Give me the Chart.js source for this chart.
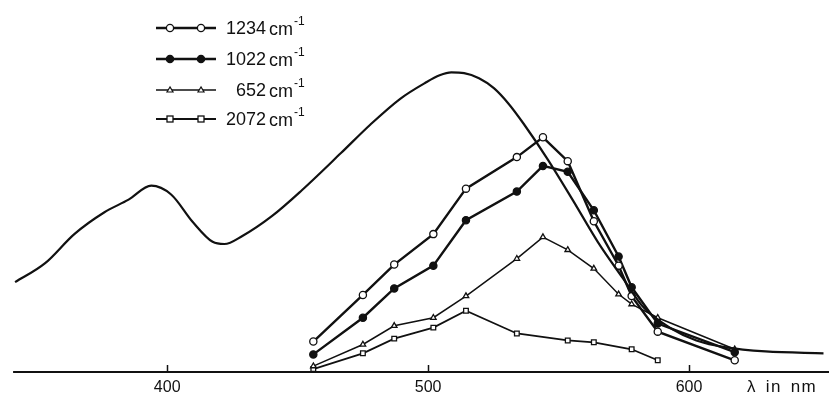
<!DOCTYPE html>
<html lang="en">
<head>
    <meta charset="UTF-8">
    <title>Excitation profiles</title>
    <script src="https://cdn.jsdelivr.net/npm/chart.js"></script>
    <style>
        body {
            margin: 0;
            background: #fff;
            font-family: 'Liberation Sans', Arial, sans-serif;
        }

        #wrap {
            position: relative;
            width: 829px;
            height: 402px;
        }

        .legend-row {
            position: absolute;
            left: 150px;
            height: 20px;
            display: flex;
            align-items: center;
            font-size: 18px;
            color: #111;
        }

        .legend-row svg {
            width: 72px;
            height: 14px;
        }

        .legend-row .num {
            display: inline-block;
            width: 42px;
            text-align: right;
            margin-left: 2px;
        }

        .legend-row .unit {
            margin-left: 3px;
        }

        .legend-row sup {
            font-size: 12px;
            position: relative;
            top: -3px;
            margin-left: 1px;
        }

        #xunit {
            position: absolute;
            left: 747px;
            top: 377px;
            font-size: 17px;
            letter-spacing: 1.3px;
            word-spacing: 3px;
            color: #111;
        }
    </style>
</head>
<body>
    <div id="wrap">
        <canvas id="spectrum" width="829" height="402"></canvas>
        <div id="legend"></div>
        <div id="xunit">&lambda; in nm</div>
    </div>

    <script>
        // absorption band (wavelength nm / relative absorbance)
        const absWave = [341.7, 353.1, 364.4, 375.8, 385.2, 393.9, 401.5, 409.8, 417.4, 421.9, 428.8,
            440.1, 451.5, 466.6, 477.9, 489.3, 498.8, 504.4, 508.9, 513.8, 519.5, 525.2, 530.9, 536.6,
            546.0, 555.5, 565.0, 574.4, 582.7, 593.3, 602.8, 614.2, 629.3, 651.6];
        const absValues = [24.5, 29.6, 37.6, 43.5, 47.0, 50.8, 48.4, 40.9, 35.5, 34.9, 37.1,
            42.5, 49.5, 59.7, 67.5, 74.5, 78.8, 80.9, 81.7, 81.5, 80.1, 77.4, 73.1, 67.7,
            57.8, 46.8, 35.5, 25.8, 17.5, 11.8, 8.6, 6.7, 5.6, 5.1];

        // excitation wavelengths for the Raman bands
        const excWave = [456, 475, 487, 502, 514.5, 534, 544, 553.5, 563.5, 573, 578, 588, 617.5];
        const band1234 = [8.3, 21.0, 29.3, 37.6, 50.0, 58.6, 64.0, 57.5, 41.1, 29.0, 20.7, 11.0, 3.2];
        const band1022 = [4.8, 14.8, 22.8, 29.0, 41.4, 49.2, 56.2, 54.6, 44.1, 31.5, 23.1, 13.2, 5.4];
        const band652 = [1.6, 7.5, 12.6, 14.8, 20.7, 30.9, 36.8, 33.3, 28.2, 21.2, 18.5, 14.8, 6.2];

        const excWave2072 = [456, 475, 487, 502, 514.5, 534, 553.5, 563.5, 578, 588];
        const band2072 = [0.8, 5.1, 9.1, 12.1, 16.7, 10.5, 8.6, 8.1, 6.2, 3.2];

        const xTicks = [400, 500, 600];
        const legendLabels = ['1234', '1022', '652', '2072'];

        const ink = '#111';

        function pairs(xs, ys) {
            return xs.map((x, i) => ({ x: x, y: ys[i] }));
        }

        const bandStyles = [
            { style: 'circle', fill: '#fff', r: 3.6, w: 2.4 },
            { style: 'circle', fill: ink, r: 3.6, w: 2.4 },
            { style: 'triangle', fill: '#fff', r: 3.2, w: 1.5 },
            { style: 'rect', fill: '#fff', r: 3.3, w: 1.8 }
        ];
        const bandData = [
            pairs(excWave, band1234),
            pairs(excWave, band1022),
            pairs(excWave, band652),
            pairs(excWave2072, band2072)
        ];

        const datasets = [{
            label: 'absorption',
            data: pairs(absWave, absValues),
            borderColor: ink,
            borderWidth: 2.2,
            pointRadius: 0,
            cubicInterpolationMode: 'monotone',
            fill: false
        }];

        bandData.forEach((d, i) => {
            const s = bandStyles[i];
            datasets.push({
                label: legendLabels[i] + ' cm-1',
                data: d,
                borderColor: ink,
                borderWidth: s.w,
                pointStyle: s.style,
                pointRadius: s.r,
                pointBackgroundColor: s.fill,
                pointBorderColor: ink,
                pointBorderWidth: 1.3,
                tension: 0,
                fill: false
            });
        });

        // axis line with short upward ticks, like the printed figure
        const axisPlugin = {
            id: 'printedAxis',
            afterDatasetsDraw(chart) {
                const ctx = chart.ctx;
                const x = chart.scales.x;
                const y0 = chart.chartArea.bottom;
                ctx.save();
                ctx.strokeStyle = ink;
                ctx.lineWidth = 2;
                ctx.beginPath();
                ctx.moveTo(x.getPixelForValue(absWave[0]) - 2, y0);
                ctx.lineTo(chart.width, y0);
                ctx.stroke();
                ctx.lineWidth = 1.5;
                xTicks.forEach(t => {
                    const px = Math.round(x.getPixelForValue(t)) + 0.5;
                    ctx.beginPath();
                    ctx.moveTo(px, y0);
                    ctx.lineTo(px, y0 - 7);
                    ctx.stroke();
                });
                ctx.restore();
            }
        };

        new Chart(document.getElementById('spectrum'), {
            type: 'line',
            data: { datasets: datasets },
            options: {
                responsive: false,
                animation: false,
                layout: { padding: 0 },
                plugins: {
                    legend: { display: false },
                    tooltip: { enabled: false }
                },
                scales: {
                    x: {
                        type: 'linear',
                        min: 337.95,
                        max: 651.6,
                        grid: { display: false, drawTicks: false },
                        border: { display: false },
                        afterBuildTicks: scale => {
                            scale.ticks = xTicks.map(v => ({ value: v }));
                        },
                        afterFit: scale => { scale.height = 30; },
                        ticks: {
                            color: ink,
                            padding: 6,
                            maxRotation: 0,
                            font: { family: "'Liberation Sans', Arial, sans-serif", size: 16 }
                        }
                    },
                    y: {
                        display: false,
                        min: 0,
                        max: 100
                    }
                }
            },
            plugins: [axisPlugin]
        });

        // legend drawn as html rows
        const rowTops = [18, 49, 80, 109];
        const legend = document.getElementById('legend');
        legendLabels.forEach((lab, i) => {
            const s = bandStyles[i];
            let marks = '';
            [20, 51].forEach(cx => {
                if (s.style === 'circle') {
                    marks += `<circle cx="${cx}" cy="7" r="3.6" fill="${s.fill}" stroke="${ink}" stroke-width="1.3"/>`;
                } else if (s.style === 'triangle') {
                    marks += `<polygon points="${cx},4 ${cx - 3},9 ${cx + 3},9" fill="#fff" stroke="${ink}" stroke-width="1.2"/>`;
                } else {
                    marks += `<rect x="${cx - 3}" y="4" width="6" height="6" fill="#fff" stroke="${ink}" stroke-width="1.3"/>`;
                }
            });
            const row = document.createElement('div');
            row.className = 'legend-row';
            row.style.top = rowTops[i] + 'px';
            row.innerHTML =
                `<svg viewBox="0 0 72 14"><line x1="6" y1="7" x2="66" y2="7" stroke="${ink}" stroke-width="${s.w}"/>${marks}</svg>` +
                `<span class="num">${lab}</span><span class="unit">cm<sup>-1</sup></span>`;
            legend.appendChild(row);
        });
    </script>
</body>
</html>
